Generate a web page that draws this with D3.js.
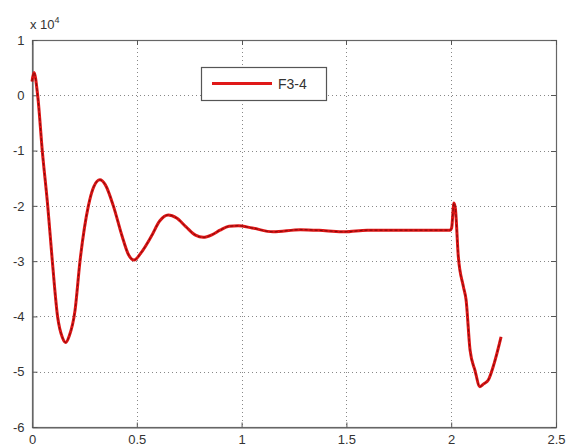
<!DOCTYPE html>
<html>
<head>
<meta charset="utf-8">
<script src="https://cdn.jsdelivr.net/npm/d3@7"></script>
<style>
  html, body { margin: 0; padding: 0; background: #fff; }
  svg { display: block; font-family: "Liberation Sans", Arial, sans-serif; }
</style>
</head>
<body>
<svg id="chart" width="572" height="447"></svg>
<script>
// Time axis (s) and force (×10^4) for the F3-4 trace
const time = [0, 0.0095, 0.027, 0.049, 0.075, 0.097, 0.122, 0.145, 0.161, 0.178, 0.205,
  0.229, 0.269, 0.295, 0.324, 0.350, 0.388, 0.430, 0.460, 0.487, 0.520, 0.568, 0.610,
  0.650, 0.690, 0.735, 0.780, 0.817, 0.860, 0.897, 0.940, 0.984, 1.05, 1.15, 1.28,
  1.40, 1.49, 1.60, 1.80, 1.995, 2.002, 2.013, 2.020, 2.034, 2.058, 2.071, 2.090,
  2.113, 2.137, 2.155, 2.177, 2.205, 2.238];
const force = [0.25, 0.41, 0.0, -1.0, -2.0, -3.0, -4.0, -4.38, -4.47, -4.35, -3.9,
  -3.0, -2.0, -1.65, -1.53, -1.62, -2.0, -2.55, -2.88, -2.98, -2.85, -2.56, -2.27,
  -2.165, -2.22, -2.38, -2.53, -2.57, -2.52, -2.44, -2.37, -2.36, -2.40, -2.47, -2.43,
  -2.45, -2.47, -2.44, -2.44, -2.44, -2.40, -1.95, -2.05, -2.92, -3.46, -3.70, -4.61,
  -4.97, -5.27, -5.22, -5.15, -4.85, -4.37];
const xTicks = [0, 0.5, 1, 1.5, 2, 2.5];
const yTicks = [1, 0, -1, -2, -3, -4, -5, -6];
const seriesName = "F3-4";

const svg = d3.select("#chart");
const L = 32, R = 556, T = 40, B = 427;

const x = d3.scaleLinear().domain([0, 2.5]).range([L, R]);
const y = d3.scaleLinear().domain([-6, 1]).range([B, T]);

// Plain hyphen-minus tick labels
const fmt = d => String(d);

// Dotted grid
const grid = svg.append("g").attr("stroke", "#888").attr("stroke-width", 1)
  .attr("stroke-dasharray", "1,3");
grid.selectAll("line.vx").data(xTicks.slice(1, -1)).join("line")
  .attr("x1", d => Math.round(x(d)) + 0.5).attr("x2", d => Math.round(x(d)) + 0.5)
  .attr("y1", T).attr("y2", B);
grid.selectAll("line.hy").data(yTicks.slice(1, -1)).join("line")
  .attr("y1", d => Math.round(y(d)) + 0.5).attr("y2", d => Math.round(y(d)) + 0.5)
  .attr("x1", L).attr("x2", R);

// Axes box
svg.append("rect").attr("x", L + 0.5).attr("y", T + 0.5)
  .attr("width", R - L).attr("height", B - T)
  .attr("fill", "none").attr("stroke", "#666").attr("stroke-width", 1.2);

// Bottom and left axes with inward ticks
const xAxis = d3.axisBottom(x).tickValues(xTicks).tickSizeInner(-5).tickSizeOuter(0)
  .tickFormat(fmt);
const gx = svg.append("g").attr("transform", `translate(0,${B + 0.5})`).call(xAxis);
const yAxis = d3.axisLeft(y).tickValues(yTicks).tickSizeInner(-5).tickSizeOuter(0)
  .tickFormat(fmt);
const gy = svg.append("g").attr("transform", `translate(${L + 0.5},0)`).call(yAxis);
[gx, gy].forEach(g => {
  g.select(".domain").attr("stroke", "#666").attr("stroke-width", 1.2);
  g.selectAll(".tick line").attr("stroke", "#555");
  g.selectAll("text").attr("fill", "#333").style("font-size", "13px")
    .style("font-family", "'Liberation Sans', Arial, sans-serif");
});
gx.selectAll("text").attr("dy", "1.05em");
gy.selectAll("text").attr("x", -8);

// Top ticks and right ticks
svg.append("g").selectAll("line").data(xTicks).join("line")
  .attr("x1", d => Math.round(x(d)) + 0.5).attr("x2", d => Math.round(x(d)) + 0.5)
  .attr("y1", T).attr("y2", T + 5).attr("stroke", "#555");
svg.append("g").selectAll("line").data(yTicks).join("line")
  .attr("y1", d => Math.round(y(d)) + 0.5).attr("y2", d => Math.round(y(d)) + 0.5)
  .attr("x1", R - 5).attr("x2", R).attr("stroke", "#555");

// Exponent label
const expo = svg.append("text").attr("x", 30).attr("y", 29)
  .attr("fill", "#333").style("font-size", "13px");
expo.append("tspan").text("x 10");
expo.append("tspan").attr("dy", -6).style("font-size", "9px").text("4");

// Data line
const pts = time.map((t, i) => [t, force[i]]);
const line = d3.line().x(d => x(d[0])).y(d => y(d[1])).curve(d3.curveMonotoneX);
svg.append("path").datum(pts).attr("d", line)
  .attr("fill", "none").attr("stroke", "#dd1515").attr("stroke-width", 3)
  .attr("stroke-linejoin", "round");
svg.append("path").datum(pts).attr("d", line)
  .attr("fill", "none").attr("stroke", "#7a0c0c").attr("stroke-width", 1)
  .attr("stroke-dasharray", "3,2").attr("stroke-linejoin", "round");

// Legend
const lg = svg.append("g");
lg.append("rect").attr("x", 201.5).attr("y", 67.5).attr("width", 125).attr("height", 33)
  .attr("fill", "#fff").attr("stroke", "#555").attr("stroke-width", 1.2);
lg.append("line").attr("x1", 212).attr("x2", 272).attr("y1", 83.5).attr("y2", 83.5)
  .attr("stroke", "#e01818").attr("stroke-width", 3);
lg.append("text").attr("x", 278).attr("y", 89).attr("fill", "#333")
  .style("font-size", "14px").text(seriesName);
</script>
</body>
</html>
